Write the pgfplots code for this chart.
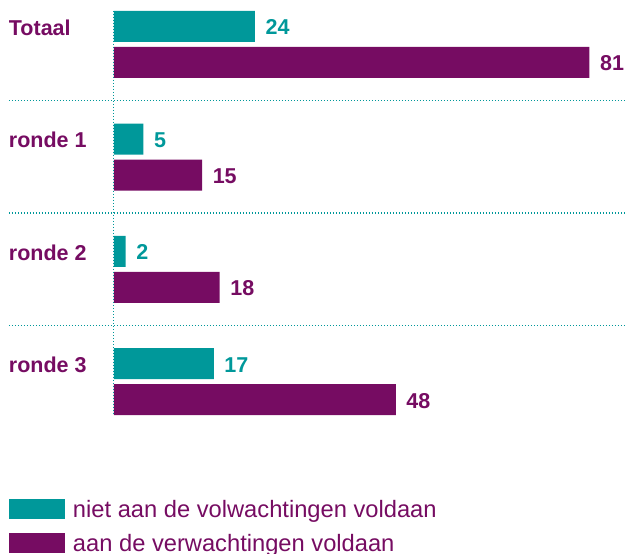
\documentclass[border=0pt]{standalone}
\usepackage{fontspec}
\setmainfont{Liberation Sans}
\usepackage{pgfplots}
\pgfplotsset{compat=1.18}
\definecolor{tealC}{HTML}{00989A}
\definecolor{purpC}{HTML}{760C62}
\newcommand{\lblfont}{\fontsize{21.5bp}{24bp}\selectfont\bfseries}
\pgfplotsset{sqlegend/.style={legend image code/.code={\fill[##1] (0bp,-9bp) rectangle (56bp,11bp);}}}
\begin{document}
\begin{tikzpicture}
\begin{axis}[
 scale only axis, width=512bp, height=554bp,
 xmin=0, xmax=87.22, ymin=0, ymax=554, y dir=reverse,
 axis line style={draw=none}, major tick style={draw=none},
 xtick=\empty,
 ytick={26.5,139.1,251.4,363.5},
 yticklabels={Totaal,ronde 1,ronde 2,ronde 3},
 yticklabel style={anchor=base west, inner sep=0pt, xshift=-101bp, yshift=-8.6bp, font=\lblfont, text=purpC},
 /pgf/number format/assume math mode=true,
 xbar, bar width=31bp,
 clip=false,
 point meta=x,
 nodes near coords={\pgfmathprintnumber[fixed,precision=0]{\pgfplotspointmeta}},
 legend cell align=left,
 legend style={at={(-0.20508,0.09928)}, anchor=north west, draw=none, fill=none, inner sep=0pt, outer sep=0pt, row sep=13.6bp, column sep=8bp, nodes={inner sep=0pt, text=purpC, font=\fontsize{23.7bp}{27bp}\selectfont}},
]
\coordinate (bbA) at (rel axis cs:-0.22266,0);
\coordinate (bbB) at (rel axis cs:1,1);
\draw[tealC, line width=1.1bp, dash pattern=on 1.1bp off 1.9bp] (axis cs:-17.9,100.5) -- (axis cs:87.22,100.5);
\draw[tealC, line width=1.1bp, dash pattern=on 1.1bp off 1.9bp] (axis cs:-17.9,213) -- (axis cs:87.22,213);
\draw[tealC, line width=1.1bp, dash pattern=on 1.1bp off 1.9bp] (axis cs:-17.9,325.5) -- (axis cs:87.22,325.5);
\addplot[xbar, bar shift=0pt, fill=tealC, draw=none,
  every node near coord/.append style={anchor=base west, inner sep=0pt, xshift=10.5bp, yshift=-8.5bp, font=\lblfont, text=tealC},
  sqlegend]
  coordinates {(24,26.5) (5,139.1) (2,251.4) (17,363.5)};
\addlegendentry{niet aan de volwachtingen voldaan}
\addplot[xbar, bar shift=0pt, fill=purpC, draw=none,
  every node near coord/.append style={anchor=base west, inner sep=0pt, xshift=10.5bp, yshift=-8.5bp, font=\lblfont, text=purpC},
  sqlegend]
  coordinates {(81,62.5) (15,175.1) (18,287.4) (48,399.5)};
\addlegendentry{aan de verwachtingen voldaan}
\draw[tealC, line width=1bp, dash pattern=on 1bp off 2bp] (axis cs:0,11) -- (axis cs:0,415);
\end{axis}
\pgfresetboundingbox
\path[use as bounding box] (bbA) rectangle (bbB);
\end{tikzpicture}
\end{document}
